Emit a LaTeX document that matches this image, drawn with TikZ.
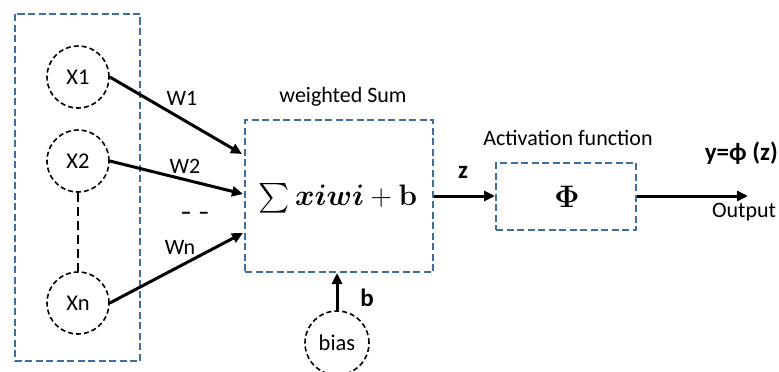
\documentclass[tikz,border=0pt]{standalone}
\usepackage{amsmath,bm,graphicx}
\usepackage[no-math]{fontspec}
\setmainfont{Carlito}
\usetikzlibrary{arrows.meta}
\definecolor{boxblue}{RGB}{62,110,158}
\tikzset{
  group/.style={draw=boxblue, line width=2pt, dash pattern=on 7pt off 3.5pt},
  inputnode/.style={draw=black, line width=1.6pt, dash pattern=on 5pt off 3pt, circle, minimum size=62pt, inner sep=0pt, font=\fontsize{22.5}{26}\selectfont},
  label/.style={font=\fontsize{22}{26}\selectfont, inner sep=0pt},
  boldlabel/.style={font=\fontsize{25}{28}\selectfont\bfseries, inner sep=0pt},
  formula/.style={inner sep=0pt, font=\fontsize{24.88}{28}\selectfont},
  flow/.style={line width=3pt, -{Triangle[length=11pt,width=10pt]}},
}
\begin{document}
\begin{tikzpicture}[x=1pt,y=-1pt]
\useasboundingbox (0,0) rectangle (779,372);
% input group
\draw[group] (15,14) rectangle (140,361);
\node[inputnode] (x1) at (78,77) {X1};
\node[inputnode] (x2) at (78,161) {X2};
\node[inputnode] (xn) at (78,303) {Xn};
\draw[line width=1.6pt, dash pattern=on 9pt off 5pt] (x2.south) -- (xn.north);
% weighted sum
\node[group, minimum width=188pt, minimum height=152pt, inner sep=0pt] (sum) at (339,196) {};
\node[formula] (sumtext) at (338,198) {\scalebox{1.19}{$\sum \bm{xiwi} + \mathbf{b}$}};
\node[label] (sumlabel) at (343,97) {weighted Sum};
\coordinate (in1) at (242,154);
\coordinate (in2) at (243,194);
\coordinate (in3) at (243,233);
\draw[flow] (x1.east) -- (in1);
\draw[flow] (x2.east) -- (in2);
\draw[flow] (xn.east) -- (in3);
\node[label] (w1) at (182,98) {W1};
\node[label] (w2) at (185,166) {W2};
\node[label] (wn) at (180,247) {Wn};
\node[label] (dots) at (195,216) {\textbf{–\hspace{7pt}–}};
% bias
\node[inputnode, minimum size=64pt] (bias) at (337,343) {bias};
\draw[flow] (bias.north) -- (sum.south -| bias.north);
\node[boldlabel] (blabel) at (367,298) {b};
% activation
\node[group, minimum width=140pt, minimum height=67pt, inner sep=0pt] (act) at (566,196) {};
\node[formula] (phi) at (567,197) {\scalebox{1.25}{$\mathbf{\Phi}$}};
\node[label] (actlabel) at (568,138) {Activation function};
\draw[flow] (sum.east |- act.west) -- (act.west);
\node[boldlabel] (zlabel) at (463,172) {z};
\coordinate (out) at (748,196);
\draw[flow] (act.east) -- (out);
\node[boldlabel, anchor=east] (ylabel) at (778,153) {y=ϕ (z)};
\node[label] (outlabel) at (744,212) {Output};
\end{tikzpicture}
\end{document}
